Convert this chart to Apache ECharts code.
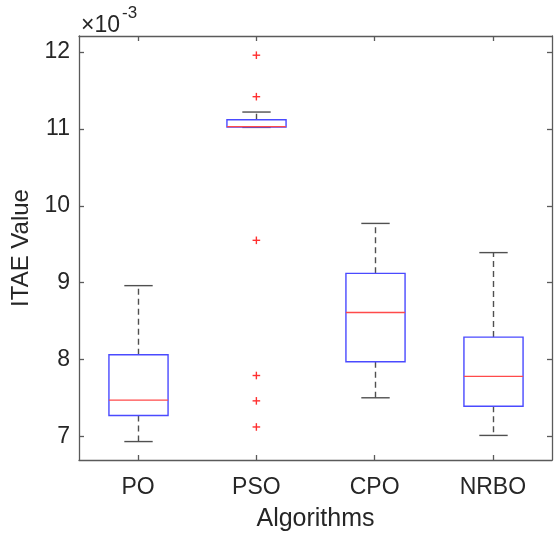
<!DOCTYPE html>
<html>
<head>
<meta charset="utf-8">
<script src="https://cdn.jsdelivr.net/npm/echarts@6/dist/echarts.min.js"></script>
<style>html,body{margin:0;padding:0;background:#fff;}#c{width:558px;height:537px;}</style>
</head>
<body>
<div id="c"></div>
<script>
// values in units of 1e-3
var categories = ['PO', 'PSO', 'CPO', 'NRBO'];
var lowerWhisker = [6.93, 11.02, 7.50, 7.01];
var q1 = [7.27, 11.025, 7.97, 7.39];
var median = [7.47, 11.03, 8.61, 7.78];
var q3 = [8.06, 11.12, 9.12, 8.29];
var upperWhisker = [8.96, 11.22, 9.77, 9.39];
var outlierCategory = [1, 1, 1, 1, 1, 1];
var outlierValue = [11.96, 11.42, 9.55, 7.79, 7.46, 7.12];
var yTicks = [7, 8, 9, 10, 11, 12];

var FONT = 'Liberation Sans';
var AXIS = '#5a5a5a';
var TEXT = '#262626';

var boxData = categories.map(function (c, i) {
  return [i, lowerWhisker[i], q1[i], median[i], q3[i], upperWhisker[i]];
});
var outData = outlierValue.map(function (v, i) { return [outlierCategory[i], v]; });

function renderBox(params, api) {
  var i = api.value(0);
  var band = api.size([1, 0])[0];
  var pLw = api.coord([i, api.value(1)]);
  var pQ1 = api.coord([i, api.value(2)]);
  var pMd = api.coord([i, api.value(3)]);
  var pQ3 = api.coord([i, api.value(4)]);
  var pUw = api.coord([i, api.value(5)]);
  var x = Math.round(pMd[0]) + 0.5;
  var hb = band * 0.25, hc = band * 0.12;
  var dash = { stroke: '#505050', lineWidth: 1.4, lineDash: [6, 4] };
  var solidK = { stroke: '#505050', lineWidth: 1.4 };
  return {
    type: 'group',
    children: [
      { type: 'line', shape: { x1: x, y1: pQ3[1], x2: x, y2: pUw[1] }, style: dash },
      { type: 'line', shape: { x1: x, y1: pQ1[1], x2: x, y2: pLw[1] }, style: dash },
      { type: 'line', shape: { x1: x - hc, y1: pUw[1], x2: x + hc, y2: pUw[1] }, style: solidK },
      { type: 'line', shape: { x1: x - hc, y1: pLw[1], x2: x + hc, y2: pLw[1] }, style: solidK },
      { type: 'rect', shape: { x: x - hb, y: pQ3[1], width: hb * 2, height: pQ1[1] - pQ3[1] },
        style: { fill: 'none', stroke: '#4a4aff', lineWidth: 1.4 } },
      { type: 'line', shape: { x1: x - hb, y1: pMd[1], x2: x + hb, y2: pMd[1] },
        style: { stroke: '#ff4a4a', lineWidth: 1.3 } }
    ]
  };
}

function renderPlus(params, api) {
  var p = api.coord([api.value(0), api.value(1)]);
  var s = 3.8;
  var st = { stroke: '#ff3030', lineWidth: 1.4 };
  return {
    type: 'group',
    children: [
      { type: 'line', shape: { x1: p[0] - s, y1: p[1], x2: p[0] + s, y2: p[1] }, style: st },
      { type: 'line', shape: { x1: p[0], y1: p[1] - s, x2: p[0], y2: p[1] + s }, style: st }
    ]
  };
}

var chart = echarts.init(document.getElementById('c'), null, { renderer: 'canvas' });
var yCommon = {
  type: 'value', min: 6.69, max: 12.21,
  splitLine: { show: false },
  axisLine: { show: true, lineStyle: { color: AXIS, width: 1.3 } },
  axisTick: { show: true, inside: true, length: 5, customValues: yTicks, lineStyle: { color: AXIS, width: 1.3 } }
};
var xCommon = {
  type: 'category', data: categories, boundaryGap: true,
  axisLine: { show: true, lineStyle: { color: AXIS, width: 1.3 } },
  axisTick: { show: true, inside: true, length: 5, alignWithLabel: true, lineStyle: { color: AXIS, width: 1.3 } },
  splitLine: { show: false }
};
chart.setOption({
  animation: false,
  backgroundColor: '#fff',
  grid: { left: 79, right: 6, top: 36, bottom: 74, containLabel: false },
  xAxis: [
    Object.assign({}, xCommon, {
      position: 'bottom',
      axisLabel: { color: TEXT, fontFamily: FONT, fontSize: 23, margin: 16 },
      name: 'Algorithms', nameLocation: 'middle', nameGap: 47,
      nameTextStyle: { color: TEXT, fontFamily: FONT, fontSize: 25 }
    }),
    Object.assign({}, xCommon, { position: 'top', axisLabel: { show: false } })
  ],
  yAxis: [
    Object.assign({}, yCommon, {
      position: 'left',
      axisLabel: { color: TEXT, fontFamily: FONT, fontSize: 23, margin: 9, customValues: yTicks },
      name: 'ITAE Value', nameLocation: 'middle', nameGap: 41,
      nameTextStyle: { color: TEXT, fontFamily: FONT, fontSize: 24 }
    }),
    Object.assign({}, yCommon, { position: 'right', axisLabel: { show: false } })
  ],
  graphic: [
    { type: 'text', left: 81, top: 14, style: { text: '×10', font: '23px "Liberation Sans"', fill: TEXT } },
    { type: 'text', left: 122, top: 5, style: { text: '-3', font: '17px "Liberation Sans"', fill: TEXT } }
  ],
  series: [
    { type: 'custom', name: 'box', renderItem: renderBox, data: boxData, xAxisIndex: 0, yAxisIndex: 0,
      encode: { x: 0, y: [1, 2, 3, 4, 5] }, z: 2 },
    { type: 'custom', name: 'outliers', renderItem: renderPlus, data: outData, xAxisIndex: 0, yAxisIndex: 0,
      encode: { x: 0, y: 1 }, z: 3 }
  ]
});
</script>
</body>
</html>
